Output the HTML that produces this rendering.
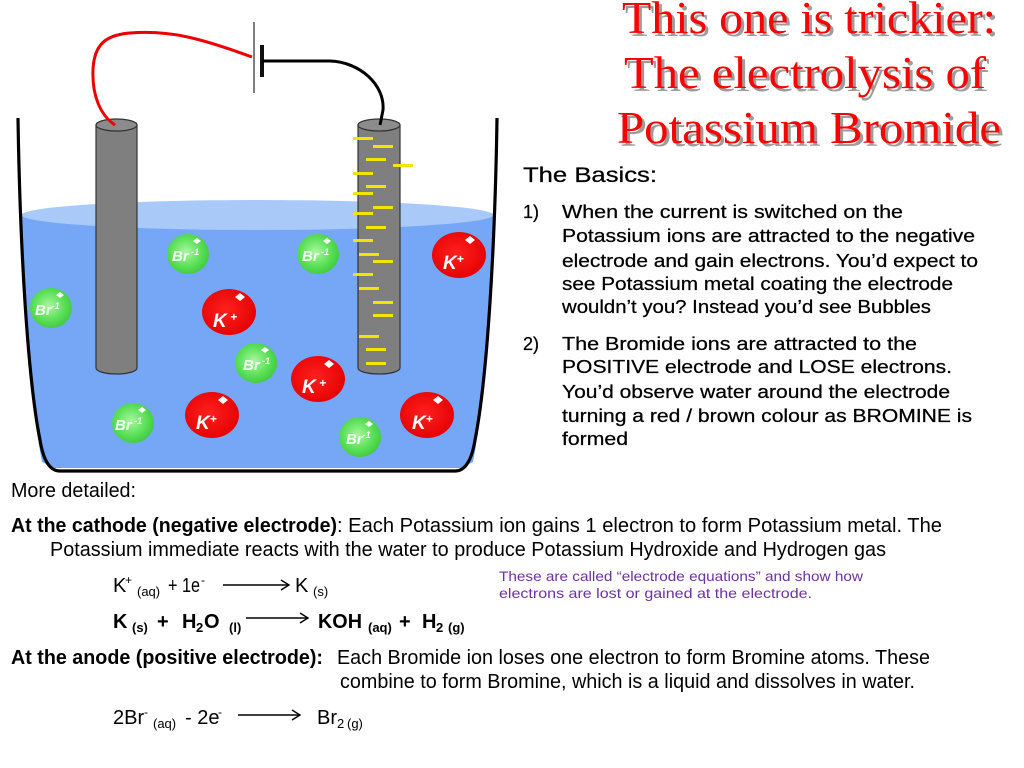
<!DOCTYPE html>
<html><head><meta charset="utf-8"><style>
html,body{margin:0;padding:0;background:#fff;}
svg{display:block;}
text{font-family:"Liberation Sans",Arial,sans-serif;}
.t{font-family:"Liberation Serif","Times New Roman",serif;font-size:46px;}
</style></head><body>
<svg width="1024" height="768" viewBox="0 0 1024 768" xmlns="http://www.w3.org/2000/svg">
<defs>
<radialGradient id="g" cx="45%" cy="45%" r="60%">
<stop offset="0" stop-color="#a8f7a0"/><stop offset="0.6" stop-color="#5ce058"/><stop offset="1" stop-color="#3cc93c"/>
</radialGradient>
<radialGradient id="r" cx="45%" cy="45%" r="60%">
<stop offset="0" stop-color="#ff2020"/><stop offset="1" stop-color="#e40000"/>
</radialGradient>
</defs>

<!-- water -->
<path d="M21 215 C24 300 30 400 42 462 L55 468 L460 468 L473 462 C485 400 491 300 494 215 Z" fill="#76a7f6"/>
<ellipse cx="257.5" cy="215" rx="236" ry="15" fill="#a9c9f9"/>

<!-- beaker -->
<path d="M18 118 C20 250 28 380 40 440 Q45 471 60 471 L455 471 Q470 471 475 440 C487 380 495 250 497 118" fill="none" stroke="#000" stroke-width="3.2"/>

<!-- battery -->
<line x1="254" y1="22" x2="254" y2="93" stroke="#555" stroke-width="1.5"/>
<line x1="262" y1="45" x2="262" y2="77" stroke="#111" stroke-width="4"/>

<!-- electrodes -->
<path d="M96 125 L96 368 A20.5 6 0 0 0 137 368 L137 125 Z" fill="#7f7f7f" stroke="#333" stroke-width="1.2"/>
<ellipse cx="116.5" cy="125" rx="20.5" ry="6" fill="#8c8c8c" stroke="#333" stroke-width="1.2"/>
<path d="M358 125 L358 368 A21 6 0 0 0 400 368 L400 125 Z" fill="#7f7f7f" stroke="#333" stroke-width="1.2"/>
<ellipse cx="379" cy="125" rx="21" ry="6" fill="#8c8c8c" stroke="#333" stroke-width="1.2"/>

<!-- wires -->
<path d="M115 125 C100 115 92 95 93 70 C94 45 105 35 130 33 C170 30 200 38 252 57" fill="none" stroke="#e00" stroke-width="3"/>
<path d="M262 61 L330 61 C360 62 385 85 383 110 L380 125" fill="none" stroke="#000" stroke-width="3"/>

<!-- yellow dashes -->
<g fill="#f2e600">
<rect x="353" y="137" width="20" height="3"/>
<rect x="373" y="145" width="20" height="3"/>
<rect x="366" y="158" width="20" height="3"/>
<rect x="393" y="164" width="20" height="3"/>
<rect x="353" y="172" width="20" height="3"/>
<rect x="366" y="185" width="20" height="3"/>
<rect x="353" y="192" width="20" height="3"/>
<rect x="373" y="206" width="20" height="3"/>
<rect x="353" y="212" width="20" height="3"/>
<rect x="366" y="226" width="20" height="3"/>
<rect x="353" y="239" width="20" height="3"/>
<rect x="359" y="253" width="20" height="3"/>
<rect x="373" y="260" width="20" height="3"/>
<rect x="353" y="273" width="20" height="3"/>
<rect x="359" y="287" width="20" height="3"/>
<rect x="373" y="301" width="20" height="3"/>
<rect x="373" y="314" width="20" height="3"/>
<rect x="359" y="335" width="20" height="3"/>
<rect x="366" y="348" width="20" height="3"/>
<rect x="366" y="362" width="20" height="3"/>
</g>

<!-- green Br ions -->
<g font-weight="bold" font-style="italic" fill="#fff">
<ellipse cx="188" cy="254" rx="21" ry="20" fill="url(#g)"/>
<polygon points="193,241 197,238 201,241 197,244" fill="#fff"/>
<text x="172" y="261" font-size="15" fill="#f4fff4">Br<tspan font-size="9" dy="-6"> -1</tspan></text>

<ellipse cx="318" cy="254" rx="21" ry="20" fill="url(#g)"/>
<polygon points="323,241 327,238 331,241 327,244" fill="#fff"/>
<text x="302" y="261" font-size="15" fill="#f4fff4">Br<tspan font-size="9" dy="-6"> -1</tspan></text>

<ellipse cx="51" cy="308" rx="21" ry="20" fill="url(#g)"/>
<polygon points="56,295 60,292 64,295 60,298" fill="#fff"/>
<text x="35" y="315" font-size="15" fill="#f4fff4">Br<tspan font-size="9" dy="-6">-1</tspan></text>

<ellipse cx="256" cy="363" rx="21" ry="20" fill="url(#g)"/>
<polygon points="261,350 265,347 269,350 265,353" fill="#fff"/>
<text x="243" y="370" font-size="15" fill="#f4fff4">Br<tspan font-size="9" dy="-6"> -1</tspan></text>

<ellipse cx="133" cy="423" rx="21" ry="20" fill="url(#g)"/>
<polygon points="138,410 142,407 146,410 142,413" fill="#fff"/>
<text x="115" y="430" font-size="15" fill="#f4fff4">Br<tspan font-size="9" dy="-6"> -1</tspan></text>

<ellipse cx="360" cy="437" rx="21" ry="20" fill="url(#g)"/>
<polygon points="365,424 369,421 373,424 369,427" fill="#fff"/>
<text x="346" y="444" font-size="15" fill="#f4fff4">Br<tspan font-size="9" dy="-6">-1</tspan></text>
</g>

<!-- red K ions -->
<g font-weight="bold" font-style="italic">
<ellipse cx="459" cy="255" rx="27" ry="23" fill="url(#r)"/>
<polygon points="465,240 470,236 475,240 470,244" fill="#fff"/>
<text x="443" y="269" font-size="19" fill="#fff">K<tspan font-size="12" dy="-6">+</tspan></text>

<ellipse cx="229" cy="312" rx="27" ry="23" fill="url(#r)"/>
<polygon points="235,297 240,293 245,297 240,301" fill="#fff"/>
<text x="213" y="327" font-size="19" fill="#fff">K<tspan font-size="12" dy="-6"> +</tspan></text>

<ellipse cx="318" cy="379" rx="27" ry="23" fill="url(#r)"/>
<polygon points="324,364 329,360 334,364 329,368" fill="#fff"/>
<text x="302" y="393" font-size="19" fill="#fff">K<tspan font-size="12" dy="-6"> +</tspan></text>

<ellipse cx="212" cy="415" rx="27" ry="23" fill="url(#r)"/>
<polygon points="218,400 223,396 228,400 223,404" fill="#fff"/>
<text x="196" y="429" font-size="19" fill="#fff">K<tspan font-size="12" dy="-6">+</tspan></text>

<ellipse cx="427" cy="415" rx="27" ry="23" fill="url(#r)"/>
<polygon points="433,400 438,396 443,400 438,404" fill="#fff"/>
<text x="412" y="429" font-size="19" fill="#fff">K<tspan font-size="12" dy="-6">+</tspan></text>
</g>

<!-- title -->
<g class="t">
<text class="t" x="625" y="36" fill="#9c9c9c" textLength="374" lengthAdjust="spacingAndGlyphs">This one is trickier:</text>
<text class="t" x="627" y="91" fill="#9c9c9c" textLength="362" lengthAdjust="spacingAndGlyphs">The electrolysis of</text>
<text class="t" x="620" y="146" fill="#9c9c9c" textLength="384" lengthAdjust="spacingAndGlyphs">Potassium Bromide</text>
<text class="t" x="622" y="33" fill="#f00" textLength="374" lengthAdjust="spacingAndGlyphs">This one is trickier:</text>
<text class="t" x="624" y="88" fill="#f00" textLength="362" lengthAdjust="spacingAndGlyphs">The electrolysis of</text>
<text class="t" x="617" y="143" fill="#f00" textLength="384" lengthAdjust="spacingAndGlyphs">Potassium Bromide</text>
</g>

<!-- basics -->
<g fill="#000" font-size="18" stroke="#000" stroke-width="0.25">
<text x="523" y="182" font-size="21" textLength="134" lengthAdjust="spacingAndGlyphs">The Basics:</text>
<text x="523" y="218">1)</text>
<text x="562" y="218" textLength="341" lengthAdjust="spacingAndGlyphs">When the current is switched on the</text>
<text x="562" y="242" textLength="413" lengthAdjust="spacingAndGlyphs">Potassium ions are attracted to the negative</text>
<text x="562" y="267" textLength="416" lengthAdjust="spacingAndGlyphs">electrode and gain electrons. You’d expect to</text>
<text x="562" y="290" textLength="391" lengthAdjust="spacingAndGlyphs">see Potassium metal coating the electrode</text>
<text x="562" y="313" textLength="369" lengthAdjust="spacingAndGlyphs">wouldn’t you? Instead you’d see Bubbles</text>
<text x="523" y="350">2)</text>
<text x="562" y="350" textLength="355" lengthAdjust="spacingAndGlyphs">The Bromide ions are attracted to the</text>
<text x="562" y="373" textLength="390" lengthAdjust="spacingAndGlyphs">POSITIVE electrode and LOSE electrons.</text>
<text x="562" y="398" textLength="388" lengthAdjust="spacingAndGlyphs">You’d observe water around the electrode</text>
<text x="562" y="422" textLength="410" lengthAdjust="spacingAndGlyphs">turning a red / brown colour as BROMINE is</text>
<text x="562" y="445" textLength="66" lengthAdjust="spacingAndGlyphs">formed</text>
</g>

<!-- detailed text -->
<g fill="#000" font-size="20">
<text x="11" y="497" textLength="125" lengthAdjust="spacingAndGlyphs">More detailed:</text>
<text x="11" y="532" font-weight="bold" textLength="326" lengthAdjust="spacingAndGlyphs">At the cathode (negative electrode)</text>
<text x="337" y="532" textLength="605" lengthAdjust="spacingAndGlyphs">: Each Potassium ion gains 1 electron to form  Potassium metal. The</text>
<text x="50" y="556" textLength="836" lengthAdjust="spacingAndGlyphs">Potassium immediate reacts with the water to produce Potassium Hydroxide and Hydrogen gas</text>

<!-- eq1 -->
<text x="113" y="592">K</text>
<text x="125" y="584" font-size="12">+</text>
<text x="137" y="596" font-size="13">(aq)</text>
<text x="168" y="592" textLength="32" lengthAdjust="spacingAndGlyphs">+ 1e</text>
<text x="201" y="584" font-size="12">-</text>
<text x="295" y="592">K</text>
<text x="313" y="596" font-size="13">(s)</text>

<!-- eq2 -->
<g font-weight="bold">
<text x="113" y="628">K</text>
<text x="132" y="632" font-size="13">(s)</text>
<text x="157" y="628">+</text>
<text x="182" y="628">H</text>
<text x="196" y="632" font-size="13">2</text>
<text x="204" y="628">O</text>
<text x="229" y="632" font-size="13">(l)</text>
<text x="318" y="628" textLength="44" lengthAdjust="spacingAndGlyphs">KOH</text>
<text x="368" y="632" font-size="13">(aq)</text>
<text x="399" y="628">+</text>
<text x="422" y="628">H</text>
<text x="436" y="632" font-size="13">2</text>
<text x="448" y="632" font-size="13">(g)</text>
</g>

<!-- anode -->
<text x="11" y="664" font-weight="bold" textLength="312" lengthAdjust="spacingAndGlyphs">At the anode (positive electrode):</text>
<text x="337" y="664" textLength="593" lengthAdjust="spacingAndGlyphs">Each Bromide ion loses one electron to form Bromine atoms. These</text>
<text x="340" y="688" textLength="575" lengthAdjust="spacingAndGlyphs">combine to form Bromine, which is a liquid and dissolves in water.</text>

<!-- eq3 -->
<text x="113" y="724">2Br</text>
<text x="144" y="716" font-size="12">-</text>
<text x="153" y="728" font-size="13">(aq)</text>
<text x="185" y="724">- 2e</text>
<text x="218" y="716" font-size="12">-</text>
<text x="317" y="724">Br</text>
<text x="337" y="728" font-size="13">2</text>
<text x="347" y="728" font-size="13">(g)</text>
</g>

<!-- arrows -->
<g stroke="#000" stroke-width="1.4" fill="none">
<line x1="223" y1="585" x2="289" y2="585"/><polyline points="281,580 289,585 281,590"/>
<line x1="246" y1="618" x2="308" y2="618"/><polyline points="300,613 308,618 300,623"/>
<line x1="238" y1="715" x2="300" y2="715"/><polyline points="292,710 300,715 292,720"/>
</g>

<!-- purple note -->
<g fill="#7030a0" font-size="14">
<text x="499" y="581" textLength="364" lengthAdjust="spacingAndGlyphs">These are called “electrode equations” and show how</text>
<text x="499" y="598" textLength="313" lengthAdjust="spacingAndGlyphs">electrons are lost or gained at the electrode.</text>
</g>
</svg>
</body></html>
